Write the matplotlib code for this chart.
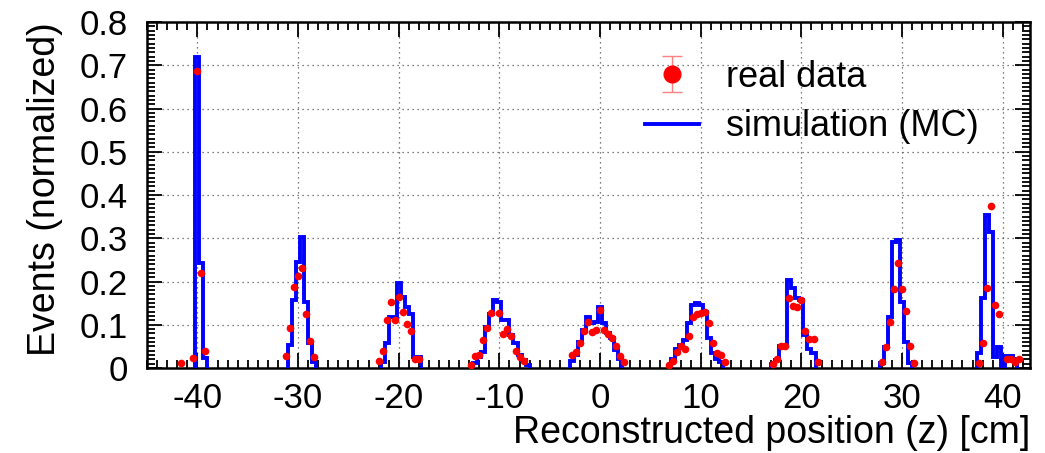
import numpy as np
import matplotlib
matplotlib.use("Agg")
import matplotlib.pyplot as plt
from matplotlib.ticker import MultipleLocator

plt.rcParams["font.family"] = ["Liberation Sans", "DejaVu Sans"]
plt.rcParams["axes.unicode_minus"] = False

# MC histogram (bin centres, 0.4 cm bins) for each target foil
mc_x = [
    [-40.0, -39.6, -39.2],
    [-30.8, -30.4, -30.0, -29.6, -29.2, -28.8, -28.4],
    [-21.6, -21.2, -20.8, -20.4, -20.0, -19.6, -19.2, -18.8, -18.4, -18.0],
    [-12.4, -12.0, -11.6, -11.2, -10.8, -10.4, -10.0, -9.6, -9.2, -8.8, -8.4, -8.0, -7.6, -7.2],
    [-2.8, -2.4, -2.0, -1.6, -1.2, -0.8, -0.4, 0.0, 0.4, 0.8, 1.2, 1.6, 2.0],
    [7.2, 7.6, 8.0, 8.4, 8.8, 9.2, 9.6, 10.0, 10.4, 10.8, 11.2, 11.6, 12.0],
    [17.2, 17.6, 18.0, 18.4, 18.8, 19.2, 19.6, 20.0, 20.4, 20.8, 21.2],
    [28.0, 28.4, 28.8, 29.2, 29.6, 30.0, 30.4, 30.8],
    [37.6, 38.0, 38.4, 38.8, 39.2, 39.6, 40.0, 40.4, 40.8, 41.2],
]
mc_y = [
    [0.720, 0.243, 0.023],
    [0.053, 0.158, 0.244, 0.303, 0.153, 0.057, 0.015],
    [0.015, 0.057, 0.118, 0.118, 0.197, 0.165, 0.142, 0.126, 0.026, 0.026],
    [0.011, 0.025, 0.038, 0.095, 0.126, 0.158, 0.153, 0.111, 0.111, 0.076, 0.057, 0.030, 0.018, 0.007],
    [0.016, 0.030, 0.061, 0.089, 0.117, 0.103, 0.107, 0.140, 0.103, 0.080, 0.069, 0.042, 0.022],
    [0.022, 0.045, 0.053, 0.065, 0.103, 0.145, 0.151, 0.145, 0.130, 0.069, 0.034, 0.022, 0.015],
    [0.010, 0.018, 0.051, 0.051, 0.203, 0.184, 0.161, 0.157, 0.076, 0.043, 0.034],
    [0.011, 0.049, 0.118, 0.292, 0.297, 0.153, 0.061, 0.011],
    [0.034, 0.161, 0.353, 0.315, 0.026, 0.049, 0.005, 0.028, 0.028, 0.022],
]

# real data points
data_x = [
    [-41.6, -40.4, -40.0, -39.6, -39.2],
    [-31.2, -30.8, -30.4, -30.0, -29.6, -29.2, -28.8, -28.4],
    [-22.0, -21.6, -21.2, -20.8, -20.4, -20.0, -19.6, -19.2, -18.8, -18.4, -18.0],
    [-12.8, -12.4, -12.0, -11.6, -11.2, -10.8, -10.0, -9.6, -9.2, -8.8, -8.4, -8.0, -7.6],
    [-2.8, -2.4, -2.0, -1.6, -1.2, -0.8, -0.4, 0.0, 0.4, 0.8, 1.2, 1.6, 2.0, 2.4],
    [6.8, 7.2, 7.6, 8.0, 8.4, 8.8, 9.2, 9.6, 10.0, 10.4, 10.8, 11.2, 11.6, 12.0, 12.4],
    [17.2, 17.6, 18.0, 18.4, 18.8, 19.2, 19.6, 20.0, 20.4, 20.8, 21.2, 21.6],
    [28.0, 28.4, 28.8, 29.2, 29.6, 30.0, 30.4, 30.8, 31.2],
    [37.6, 38.0, 38.4, 38.8, 39.2, 39.6, 40.4, 40.8, 41.2, 41.6],
]
data_y = [
    [0.011, 0.024, 0.686, 0.220, 0.040],
    [0.028, 0.092, 0.188, 0.212, 0.232, 0.125, 0.063, 0.025],
    [0.017, 0.040, 0.112, 0.153, 0.112, 0.165, 0.129, 0.102, 0.086, 0.022, 0.022],
    [0.007, 0.028, 0.030, 0.065, 0.093, 0.128, 0.128, 0.079, 0.090, 0.074, 0.040, 0.025, 0.017],
    [0.030, 0.038, 0.058, 0.085, 0.107, 0.084, 0.088, 0.134, 0.089, 0.078, 0.069, 0.051, 0.028, 0.013],
    [0.007, 0.017, 0.038, 0.051, 0.045, 0.074, 0.117, 0.126, 0.128, 0.130, 0.105, 0.058, 0.035, 0.030, 0.013],
    [0.009, 0.020, 0.051, 0.051, 0.163, 0.143, 0.142, 0.157, 0.086, 0.066, 0.068, 0.015],
    [0.015, 0.048, 0.106, 0.182, 0.242, 0.182, 0.132, 0.051, 0.012],
    [0.012, 0.057, 0.184, 0.374, 0.145, 0.125, 0.020, 0.020, 0.015, 0.020],
]

BIN_W = 0.4

fig = plt.figure(figsize=(10.45, 4.53), dpi=100)
ax = fig.add_axes([0.1407, 0.1876, 0.8449, 0.7638])

for xs, ys in zip(mc_x, mc_y):
    xs = np.array(xs)
    edges = np.append(xs - BIN_W / 2, xs[-1] + BIN_W / 2)
    ax.stairs(ys, edges, color="#0000ff", lw=2.8, zorder=3)

for xs, ys in zip(data_x, data_y):
    ax.plot(xs, ys, "o", color="#ff0000", ms=5.5, mec="none", zorder=4)

# legend proxies
h_data = ax.errorbar([np.nan], [np.nan], yerr=[0.1], fmt="o", color="#ff0000", ms=12,
                     ecolor="#ff8080", capsize=7, elinewidth=1)
h_mc, = ax.plot([np.nan], [np.nan], color="#0000ff", lw=2.8)

ax.set_xlim(-45, 42.7)
ax.set_ylim(0, 0.8)
ax.xaxis.set_major_locator(MultipleLocator(10))
ax.xaxis.set_minor_locator(MultipleLocator(1))
ax.yaxis.set_minor_locator(MultipleLocator(0.01))
ax.set_yticks(np.arange(0, 0.81, 0.1))
ax.set_yticklabels(["0", "0.1", "0.2", "0.3", "0.4", "0.5", "0.6", "0.7", "0.8"])

ax.grid(True, which="major", color="#555555", ls=(0, (1, 3)), lw=0.9)
ax.tick_params(which="both", direction="in", top=True, right=True,
               labelsize=25, width=1.3)
ax.tick_params(axis="x", pad=10)
ax.tick_params(axis="y", pad=14)
ax.tick_params(which="major", length=11)
ax.tick_params(which="minor", length=5.5)
for s in ax.spines.values():
    s.set_linewidth(1.8)

ax.set_xlabel("Reconstructed position (z) [cm]", fontsize=27, loc="right", labelpad=0)
ax.set_ylabel("Events (normalized)", fontsize=27, loc="top", labelpad=12)

ax.legend([h_data, h_mc], ["real data", "simulation (MC)"], loc="upper left",
          bbox_to_anchor=(0.527, 0.985), frameon=False, fontsize=26,
          handlelength=1.5, handletextpad=0.75, labelspacing=0.4)

fig.savefig("out.png", dpi=100)
